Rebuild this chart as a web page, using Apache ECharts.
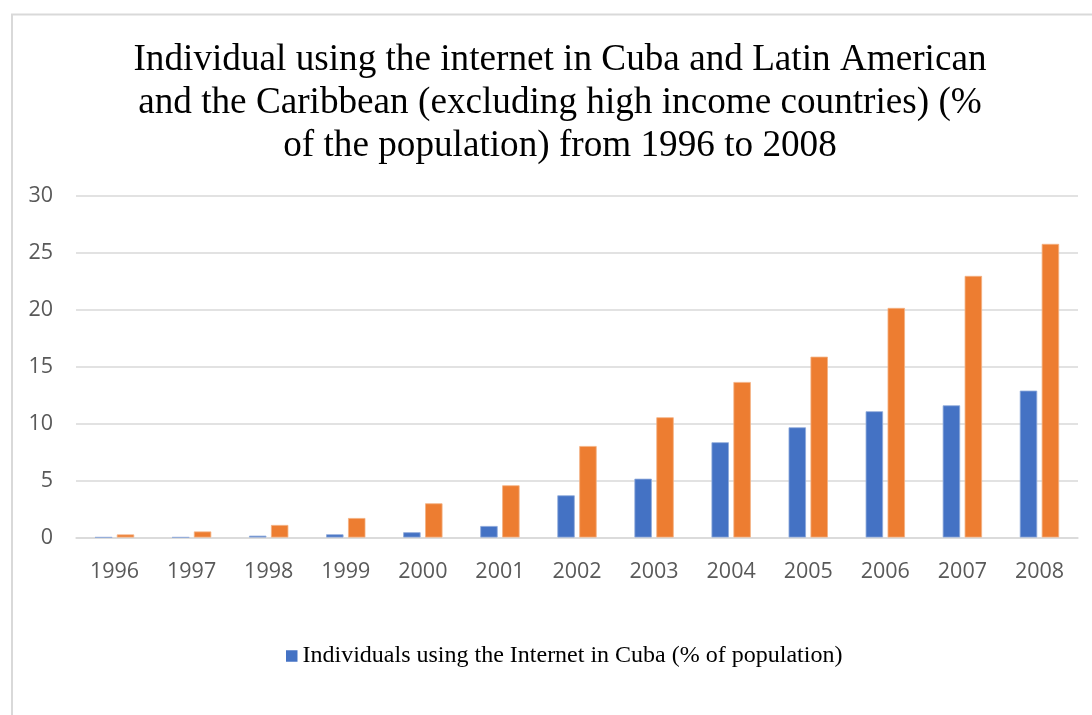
<!DOCTYPE html>
<html>
<head>
<meta charset="utf-8">
<title>Internet use in Cuba and Latin America &amp; the Caribbean, 1996-2008</title>
<script src="https://cdn.jsdelivr.net/npm/echarts@6/dist/echarts.min.js"></script>
<style>
  html, body { margin: 0; padding: 0; background: #ffffff; }
  #chart { width: 1092px; height: 715px; }
</style>
</head>
<body>
<div id="chart"></div>
<script>
// Years on the category axis
const years = ['1996', '1997', '1998', '1999', '2000', '2001', '2002',
               '2003', '2004', '2005', '2006', '2007', '2008'];

// Individuals using the Internet in Cuba (% of population)
const cubaValues = [0.02, 0.02, 0.16, 0.28, 0.46, 1.01, 3.70,
                    5.16, 8.36, 9.67, 11.08, 11.60, 12.89];

// Latin America & Caribbean, excluding high income (% of population)
const lacValues = [0.27, 0.53, 1.10, 1.71, 3.00, 4.58, 8.03,
                   10.55, 13.65, 15.87, 20.15, 22.96, 25.77];

// Value-axis ticks
const yTicks = [0, 5, 10, 15, 20, 25, 30];

const cubaName = 'Individuals using the Internet in Cuba (% of population)';
const lacName = 'Individuals using the Internet in Latin America & Caribbean (excluding high income) (% of population)';
const titleText = 'Individual using the internet in Cuba and Latin American\n' +
                  'and the Caribbean (excluding high income countries) (%\n' +
                  'of the population) from 1996 to 2008';

const chart = echarts.init(document.getElementById('chart'), null, { renderer: 'canvas' });

chart.setOption({
  animation: false,
  backgroundColor: '#ffffff',
  title: {
    text: titleText,
    left: 555,
    top: 34,
    textAlign: 'center',
    textStyle: {
      fontFamily: '"Liberation Serif", "Times New Roman", serif',
      fontSize: 37.2,
      fontWeight: 'normal',
      color: '#000000',
      lineHeight: 43
    }
  },
  graphic: [{
    type: 'rect',
    silent: true,
    shape: { x: 12, y: 14.5, width: 1200, height: 800 },
    style: { fill: 'none', stroke: '#d9d9d9', lineWidth: 2 }
  }],
  legend: {
    data: [cubaName],
    left: 281,
    top: 639,
    icon: 'rect',
    itemWidth: 11.5,
    itemHeight: 11.5,
    itemStyle: { borderWidth: 0 },
    selectedMode: false,
    textStyle: {
      fontFamily: '"Liberation Serif", "Times New Roman", serif',
      fontSize: 24,
      color: '#000000'
    }
  },
  grid: {
    left: 76,
    right: 14,
    top: 195.7,
    bottom: 177.5,
    containLabel: false
  },
  xAxis: {
    type: 'category',
    data: years,
    axisLine: { show: true, lineStyle: { color: '#d9d9d9', width: 1.5 } },
    axisTick: { show: false },
    axisLabel: {
      margin: 23,
      fontFamily: '"Open Sans", sans-serif',
      fontSize: 21.5,
      color: '#595959'
    }
  },
  yAxis: {
    type: 'value',
    min: yTicks[0],
    max: yTicks[yTicks.length - 1],
    interval: yTicks[1] - yTicks[0],
    axisLine: { show: false },
    axisTick: { show: false },
    splitLine: { lineStyle: { color: '#d9d9d9', width: 1.5 } },
    axisLabel: {
      margin: 23,
      fontFamily: '"Open Sans", sans-serif',
      fontSize: 21.5,
      color: '#595959'
    }
  },
  series: [
    {
      name: cubaName,
      type: 'bar',
      data: cubaValues,
      barWidth: 17.4,
      barGap: '26%',
      itemStyle: { color: '#4472c4', borderColor: '#8ea9db', borderWidth: 0.8 }
    },
    {
      name: lacName,
      type: 'bar',
      data: lacValues,
      barWidth: 17.4,
      barGap: '26%',
      itemStyle: { color: '#ed7d31', borderColor: '#f4b183', borderWidth: 0.8 }
    }
  ]
});
</script>
</body>
</html>
